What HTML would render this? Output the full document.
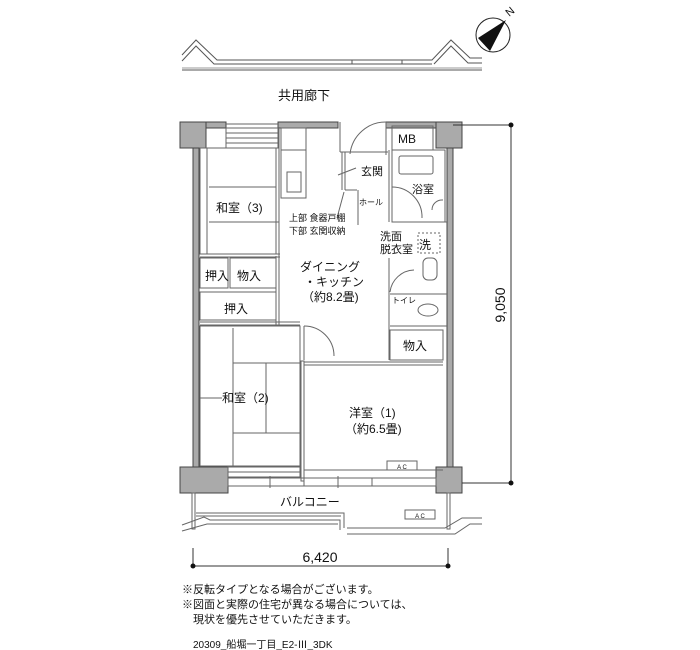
<!DOCTYPE html>
<html><head><meta charset="utf-8"><style>
html,body{margin:0;padding:0;background:#fff;width:700px;height:650px;overflow:hidden}
svg{display:block}
text{font-family:"Liberation Sans","Noto Sans CJK JP",sans-serif;fill:#111}
</style></head><body>
<svg width="700" height="650" viewBox="0 0 700 650" xmlns="http://www.w3.org/2000/svg">
<g fill="none" stroke="#555" stroke-width="1">
<!-- corridor top -->
<polyline points="182,55 196,40 217,60 432,60 451,40 470,58 482,58"/>
<polyline points="182,61 196,46 214,64 432,64"/>
<line x1="182" y1="68" x2="482" y2="68" stroke="#999"/>
<line x1="182" y1="70" x2="482" y2="70"/>
<polyline points="434,64 451,46 468,63 482,63"/>
<line x1="352" y1="60" x2="352" y2="64"/><line x1="402" y1="60" x2="402" y2="64"/>
</g>
<!-- compass -->
<circle cx="493" cy="35" r="17" fill="#fff" stroke="#222"/>
<polygon points="506,20 478,38 490,51" fill="#111"/>
<text x="506" y="16" font-size="11" transform="rotate(-40 509 12)">N</text>
<text x="278" y="100" font-size="13">共用廊下</text>

<!-- walls -->
<g fill="#aaa" stroke="#444" stroke-width="1">
<rect x="180" y="122" width="26" height="26"/>
<rect x="436" y="122" width="26" height="26"/>
<rect x="206" y="122" width="20" height="6"/>
<rect x="278" y="122" width="60" height="6"/>
<rect x="386" y="122" width="50" height="6"/>
<rect x="193" y="148" width="6" height="320"/>
<rect x="447" y="148" width="6" height="320"/>
<rect x="180" y="467" width="48" height="26"/>
<rect x="436" y="467" width="26" height="26"/>
</g>
<g fill="none" stroke="#666" stroke-width="1">
<!-- top window -->
<rect x="226" y="128" width="52" height="20"/>
<line x1="226" y1="133" x2="278" y2="133"/><line x1="226" y1="138" x2="278" y2="138"/><line x1="226" y1="143" x2="278" y2="143"/>
<line x1="226" y1="124" x2="278" y2="124"/>
<!-- room 3 -->
<rect x="200" y="148" width="76" height="106"/>
<line x1="207" y1="148" x2="207" y2="254"/>
<line x1="209" y1="187" x2="276" y2="187"/><line x1="209" y1="222" x2="276" y2="222"/>
<rect x="276" y="222" width="3" height="32"/>
<line x1="200" y1="254" x2="280" y2="254"/><line x1="200" y1="257" x2="280" y2="257"/>
<!-- closets -->
<rect x="200" y="258" width="28" height="30"/>
<rect x="230" y="258" width="46" height="30"/>
<rect x="200" y="292" width="76" height="28"/>
<line x1="200" y1="322" x2="300" y2="322"/><line x1="200" y1="325" x2="300" y2="325"/>
<line x1="276" y1="256" x2="276" y2="325"/><line x1="279" y1="128" x2="279" y2="325"/>
<!-- kitchen -->
<rect x="281" y="128" width="25" height="70"/>
<rect x="287" y="172" width="14" height="20"/>
<line x1="281" y1="150" x2="306" y2="150"/>
<!-- entry -->
<line x1="340" y1="122" x2="340" y2="152"/>
<path d="M386,122 A36,36 0 0 0 350,154"/>
<line x1="386" y1="122" x2="386" y2="155"/>
<line x1="340" y1="152" x2="388" y2="152"/>
<line x1="342" y1="152" x2="342" y2="190"/><line x1="345" y1="152" x2="345" y2="190"/>
<line x1="358" y1="190" x2="358" y2="225"/><line x1="357" y1="190" x2="345" y2="190"/>
<line x1="338" y1="175" x2="356" y2="168"/>
<line x1="344" y1="192" x2="337" y2="218"/>
<!-- MB / bath -->
<rect x="392" y="126" width="41" height="24"/>
<rect x="392" y="150" width="53" height="72"/>
<rect x="399" y="156" width="34" height="18" rx="2"/>
<path d="M392,187 A30,30 0 0 1 422,218"/>
<path d="M432,210 A10,10 0 0 1 443,200"/>
<line x1="389" y1="150" x2="389" y2="222"/>
<line x1="392" y1="222" x2="447" y2="222"/>
<rect x="418" y="233" width="22" height="20" stroke-dasharray="2,2"/>
<rect x="423" y="258" width="14" height="22" rx="5"/>
<line x1="389" y1="258" x2="389" y2="360"/>
<path d="M390,292 A25,25 0 0 1 414,270"/>
<line x1="390" y1="294" x2="447" y2="294"/>
<ellipse cx="428" cy="310" rx="10" ry="6"/>
<rect x="390" y="330" width="53" height="30"/>
<line x1="390" y1="326" x2="447" y2="326"/>
<!-- door DK->room2 -->
<path d="M304,326 A30,30 0 0 1 334,356"/>
<line x1="304" y1="326" x2="304" y2="360"/>
<!-- room 2 tatami -->
<rect x="200" y="326" width="100" height="140"/>
<line x1="233" y1="328" x2="233" y2="466"/>
<line x1="233" y1="363" x2="300" y2="363"/>
<line x1="266" y1="363" x2="266" y2="433"/>
<line x1="233" y1="433" x2="300" y2="433"/>
<line x1="200" y1="398" x2="222" y2="398"/>
<rect x="228" y="467" width="72" height="10"/>
<line x1="228" y1="472" x2="300" y2="472"/>
<!-- room 1 -->
<rect x="301" y="361" width="3" height="120"/>
<line x1="304" y1="362" x2="443" y2="362"/><line x1="304" y1="365" x2="443" y2="365"/>
<line x1="304" y1="470" x2="443" y2="470"/>
<rect x="387" y="461" width="30" height="9"/>
<!-- bottom windows -->
<rect x="228" y="478" width="208" height="8"/>
<line x1="304" y1="478" x2="304" y2="486"/><line x1="372" y1="478" x2="372" y2="486"/>
<line x1="270" y1="476" x2="270" y2="488"/><line x1="338" y1="476" x2="338" y2="488"/>
<!-- balcony -->
<rect x="192" y="493" width="3" height="36"/>
<rect x="447" y="493" width="3" height="36"/>
<polyline points="196,513 344,513 344,528"/>
<polyline points="196,516 341,516"/>
<polyline points="182,525 204,517 210,520 340,520 340,530"/>
<polyline points="182,531 207,524 338,524"/>
<polyline points="347,528 445,528 462,518 482,518"/>
<polyline points="347,534 455,534 470,524 482,524"/>
<rect x="405" y="510" width="30" height="9"/>
</g>
<g fill="none" stroke="#333" stroke-width="1">
<!-- dims -->
<line x1="511" y1="125" x2="511" y2="483"/>
<line x1="453" y1="125" x2="511" y2="125"/><line x1="462" y1="483" x2="511" y2="483"/>
<line x1="193" y1="566" x2="448" y2="566"/>
<line x1="193" y1="548" x2="193" y2="566"/><line x1="448" y1="548" x2="448" y2="566"/>
</g>
<g fill="#111">
<circle cx="511" cy="125" r="2.5"/><circle cx="511" cy="483" r="2.5"/>
<circle cx="193" cy="566" r="2.5"/><circle cx="448" cy="566" r="2.5"/>
</g>
<!-- labels -->
<text x="407" y="143" font-size="12" text-anchor="middle">MB</text>
<text x="361" y="175" font-size="11">玄関</text>
<text x="412" y="193" font-size="11">浴室</text>
<text x="359" y="205" font-size="8">ホール</text>
<text x="216" y="212" font-size="12">和室（3)</text>
<text x="289" y="221" font-size="9">上部 食器戸棚</text>
<text x="289" y="234" font-size="9">下部 玄関収納</text>
<text x="380" y="240" font-size="11">洗面</text>
<text x="380" y="253" font-size="11">脱衣室</text>
<text x="419" y="249" font-size="12">洗</text>
<text x="300" y="271" font-size="12">ダイニング</text>
<text x="304" y="286" font-size="12">・キッチン</text>
<text x="302" y="301" font-size="12">（約8.2畳)</text>
<text x="205" y="280" font-size="12">押入</text>
<text x="237" y="280" font-size="12">物入</text>
<text x="224" y="313" font-size="12">押入</text>
<text x="392" y="303" font-size="8">トイレ</text>
<text x="403" y="350" font-size="12">物入</text>
<text x="222" y="402" font-size="12">和室（2)</text>
<text x="349" y="417" font-size="12">洋室（1)</text>
<text x="345" y="433" font-size="12">（約6.5畳)</text>
<text x="402" y="469" font-size="6" text-anchor="middle">A C</text>
<text x="420" y="518" font-size="6" text-anchor="middle">A C</text>
<text x="280" y="506" font-size="12">バルコニー</text>
<text x="320" y="562" font-size="14" text-anchor="middle">6,420</text>
<text x="505" y="305" font-size="14" text-anchor="middle" transform="rotate(-90 505 305)">9,050</text>
<text x="182" y="593" font-size="11">※反転タイプとなる場合がございます。</text>
<text x="182" y="608" font-size="11">※図面と実際の住宅が異なる場合については、</text>
<text x="193" y="623" font-size="11">現状を優先させていただきます。</text>
<text x="193" y="648" font-size="10">20309_船堀一丁目_E2-Ⅲ_3DK</text>
</svg>
</body></html>
